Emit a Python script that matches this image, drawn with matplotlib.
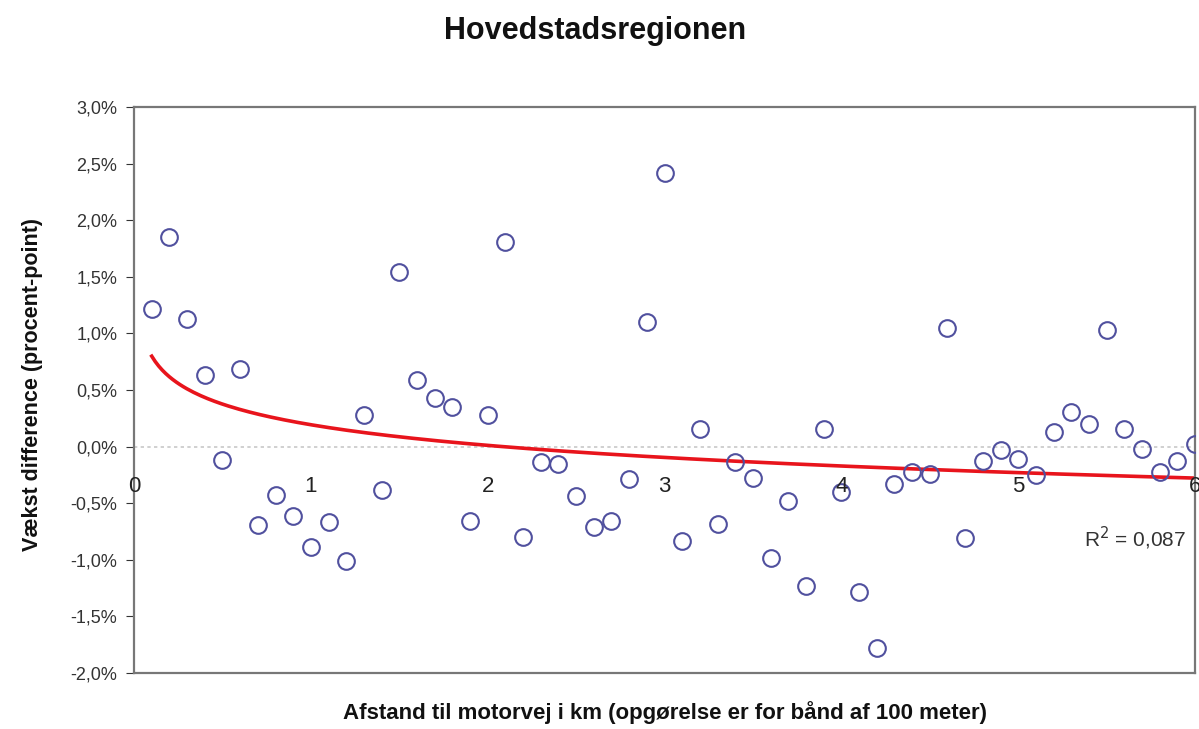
import numpy as np
import matplotlib
matplotlib.use("Agg")
import matplotlib.pyplot as plt
from matplotlib.ticker import FuncFormatter

plt.rcParams['font.family'] = ['Liberation Sans', 'DejaVu Sans']

# distance bands (km) and growth difference (percentage points)
distance_km = [round(0.1 * i, 1) for i in range(1, 61)]
growth_diff = [
    1.22, 1.85, 1.13, 0.63, -0.12, 0.69, -0.69, -0.43, -0.61, -0.89,
    -0.67, -1.01, 0.28, -0.38, 1.54, 0.59, 0.43, 0.35, -0.66, 0.28,
    1.81, -0.80, -0.14, -0.15, -0.44, -0.71, -0.66, -0.29, 1.10, 2.42,
    -0.83, 0.16, -0.68, -0.14, -0.28, -0.98, -0.48, -1.23, 0.16, -0.40,
    -1.28, -1.78, -0.33, -0.22, -0.24, 1.05, -0.81, -0.13, -0.03, -0.11,
    -0.25, 0.13, 0.31, 0.20, 1.03, 0.16, -0.02, -0.22, -0.13, 0.02,
]
y_ticks = [-2.0, -1.5, -1.0, -0.5, 0.0, 0.5, 1.0, 1.5, 2.0, 2.5, 3.0]
x_ticks = [0, 1, 2, 3, 4, 5, 6]
r2_text = "R$^2$ = 0,087"

x = np.array(distance_km)
y = np.array(growth_diff)

# logarithmic trend line, like the spreadsheet one
a, b = np.polyfit(np.log(x), y, 1)
xs = np.linspace(x.min(), x.max(), 300)
trend = a * np.log(xs) + b

fig = plt.figure(figsize=(11.99, 7.29), dpi=100)
ax = fig.add_axes([0.1118, 0.0768, 0.8849, 0.7764])

ax.axhline(0, color='#c8c8c8', lw=1.2, ls=(0, (2, 2)), zorder=1)
ax.plot(xs, trend, color='#e8141c', lw=2.6, zorder=2)
ax.plot(x, y, 'o', ms=12, mfc='none', mec='#50509e', mew=1.5, zorder=3)

ax.set_xlim(0, 6)
ax.set_ylim(-2.0, 3.0)
ax.set_yticks(y_ticks)
ax.yaxis.set_major_formatter(FuncFormatter(lambda v, p: f"{v:.1f}%".replace('.', ',')))
ax.tick_params(axis='y', direction='out', length=6, labelsize=13, colors='#333333', pad=6)
ax.set_xticks([])

# x labels sit just below the zero line
for t in x_ticks:
    ax.annotate(str(t), (t, 0), xytext=(0, -29), textcoords='offset points',
                ha='center', va='center', fontsize=16, color='#222222')

for s in ax.spines.values():
    s.set_color('#777777')
    s.set_linewidth(1.6)

ax.text(5.95, -0.81, r2_text, ha='right', va='center', fontsize=15, color='#333333')

fig.text(0.496, 0.957, "Hovedstadsregionen", ha='center', va='center',
         fontsize=22, fontweight='bold', color='#111111')
fig.text(0.555, 0.023, "Afstand til motorvej i km (opgørelse er for bånd af 100 meter)",
         ha='center', va='center', fontsize=16, fontweight='bold', color='#111111')
fig.text(0.0275, 0.472, "Vækst difference (procent-point)", ha='center', va='center',
         rotation=90, fontsize=15.5, fontweight='bold', color='#111111')

fig.savefig("out.png", dpi=100)
